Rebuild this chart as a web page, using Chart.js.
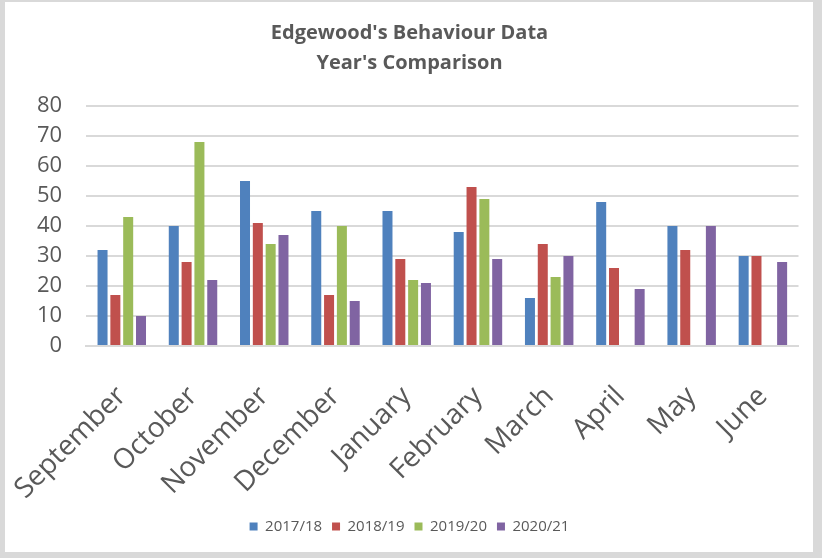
<!DOCTYPE html>
<html>
<head>
<meta charset="utf-8">
<script src="https://cdn.jsdelivr.net/npm/chart.js@4"></script>
<style>
  body { margin: 0; background: #d9d9d9; }
  #box { position: absolute; left: 5px; top: 2px; width: 808px; height: 550px; background: #fff; }
</style>
</head>
<body>
<div id="box"><canvas id="barChart"></canvas></div>
<script>
// Behaviour data per month
var months = ["September", "October", "November", "December", "January", "February", "March", "April", "May", "June"];
var data1718 = [32, 40, 55, 45, 45, 38, 16, 48, 40, 30];
var data1819 = [17, 28, 41, 17, 29, 53, 34, 26, 32, 30];
var data1920 = [43, 68, 34, 40, 22, 49, 23, null, null, null];
var data2021 = [10, 22, 37, 15, 21, 29, 30, 19, 40, 28];
var seriesNames = ["2017/18", "2018/19", "2019/20", "2020/21"];
var seriesColors = ["#4f81bd", "#c0504d", "#9bbb59", "#8064a2"];
var yTicks = [0, 10, 20, 30, 40, 50, 60, 70, 80];

var textGrey = "#595959";
var allData = [data1718, data1819, data1920, data2021];

var ctx = document.getElementById("barChart").getContext("2d");

var myChart = new Chart(ctx, {
  type: "bar",
  data: {
    labels: months,
    datasets: allData.map(function(d, i) {
      return {
        label: seriesNames[i],
        data: d,
        backgroundColor: seriesColors[i],
        categoryPercentage: 0.72,
        barPercentage: 0.78
      };
    })
  },
  options: {
    responsive: true,
    maintainAspectRatio: false,
    animation: false,
    layout: { padding: { left: 8, right: 7, top: 0, bottom: 8 } },
    plugins: {
      title: {
        display: true,
        text: ["Edgewood's Behaviour Data", "Year's Comparison"],
        color: textGrey,
        font: { family: "Open Sans", size: 20, weight: "700", lineHeight: 1.5 },
        padding: { top: 16, bottom: 28 }
      },
      legend: {
        position: "bottom",
        labels: {
          boxWidth: 8,
          boxHeight: 8,
          color: textGrey,
          font: { family: "Open Sans", size: 15 },
          padding: 10
        }
      },
      tooltip: { enabled: false }
    },
    scales: {
      x: {
        grid: { display: false },
        border: { color: "#d9d9d9", width: 2 },
        ticks: {
          color: textGrey,
          font: { family: "Open Sans", size: 28 },
          minRotation: 45,
          maxRotation: 45,
          padding: 26
        },
        // same space under the plot as the original, and let the
        // first slanted label run into the left margin
        afterFit: function(axis) {
          axis.height = 163;
          axis.paddingLeft = 0;
        }
      },
      y: {
        min: 0,
        max: 80,
        afterBuildTicks: function(axis) {
          axis.ticks = yTicks.map(function(v) { return { value: v }; });
        },
        grid: { color: "#d9d9d9", lineWidth: 2, drawTicks: false },
        border: { display: false },
        ticks: {
          color: textGrey,
          autoSkip: false,
          font: { family: "Open Sans", size: 22 },
          padding: 24
        }
      }
    }
  }
});
</script>
</body>
</html>
